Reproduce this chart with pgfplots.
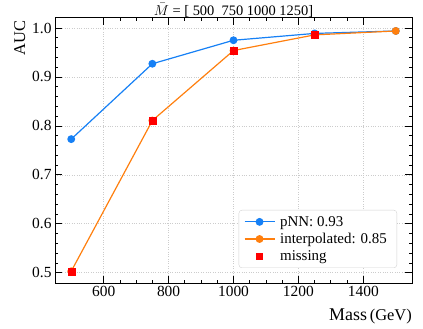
\documentclass[border=0pt]{standalone}
\usepackage{fontspec}
\setmainfont{Liberation Serif}
\usepackage{pgfplots}
\pgfplotsset{compat=1.18}
\definecolor{pnnblue}{RGB}{22,128,245}
\definecolor{interporange}{RGB}{255,127,14}

\begin{document}
\begin{tikzpicture}
\begin{axis}[
  scale only axis, width=357bp, height=265bp,
  xmin=450, xmax=1550, ymin=0.479, ymax=1.0205,
  xtick={600,800,1000,1200,1400},
  ytick={0.5,0.6,0.7,0.8,0.9,1.0},
  minor x tick num=3, minor y tick num=4,
  tick align=inside, xtick pos=both, ytick pos=both,
  major tick length=7bp, minor tick length=3.5bp,
  every tick/.style={black, line width=0.8bp},
  axis line style={line width=1bp},
  grid=major, grid style={dotted, gray!40, line width=0.6bp},
  /pgf/number format/assume math mode=true,
  yticklabel style={/pgf/number format/fixed, /pgf/number format/precision=1,
    /pgf/number format/fixed zerofill},
  xticklabel style={/pgf/number format/set thousands separator={}},
  ticklabel style={font=\fontsize{15.5}{18}\selectfont},
  every axis title shift=0pt,
  title={$\bar{M}$ = [ 500\ \ 750 1000 1250]},
  title style={at={(axis description cs:0.5,1)}, anchor=base, yshift=3bp,
    inner sep=0pt, font=\fontsize{14.5}{16}\selectfont},
  xlabel={{\fontsize{18}{20}\selectfont$\mathrm{Mass}$}\,(GeV)},
  xlabel style={at={(axis description cs:1,0)}, anchor=base east, yshift=-37bp,
    inner sep=0pt, font=\fontsize{16.5}{18}\selectfont},
  ylabel={AUC},
  ylabel style={at={(axis description cs:-0.084,0.992)}, anchor=base east,
    inner sep=0pt, font=\fontsize{16.5}{18}\selectfont},
  legend style={at={(axis description cs:1,0)}, anchor=south east,
    xshift=-15bp, yshift=15bp, draw=gray!35, rounded corners=3bp,
    inner xsep=5bp, inner ysep=4bp,
    font=\fontsize{15}{17}\selectfont, row sep=1.5bp,
    nodes={inner xsep=5bp}},
  legend cell align=left,
  legend image code/.code={
    \draw[mark repeat=2, mark phase=2]
      plot coordinates {(0bp,0bp) (15bp,0bp) (30bp,0bp)};},
]
\addplot[pnnblue, line width=1.2bp, mark=*, mark size=3.3bp]
  coordinates {(500,0.773) (750,0.927) (1000,0.975) (1250,0.989) (1500,0.994)};
\addlegendentry{pNN: 0.93}
\addplot[interporange, line width=1.2bp, mark=*, mark size=3.3bp]
  coordinates {(500,0.503) (750,0.811) (1000,0.954) (1250,0.986) (1500,0.994)};
\addlegendentry{interpolated: 0.85}
\addplot[only marks, red, mark=square*, mark size=3.5bp,
  legend image code/.code={\draw[mark size=3bp] plot coordinates {(15bp,0bp)};}]
  coordinates {(500,0.503) (750,0.811) (1000,0.954) (1250,0.986)};
\addlegendentry{missing}
\end{axis}
\pgfresetboundingbox
\path ([xshift=-55bp,yshift=-46bp]current axis.south west) rectangle
  ([xshift=11bp,yshift=18bp]current axis.north east);
\end{tikzpicture}
\end{document}
